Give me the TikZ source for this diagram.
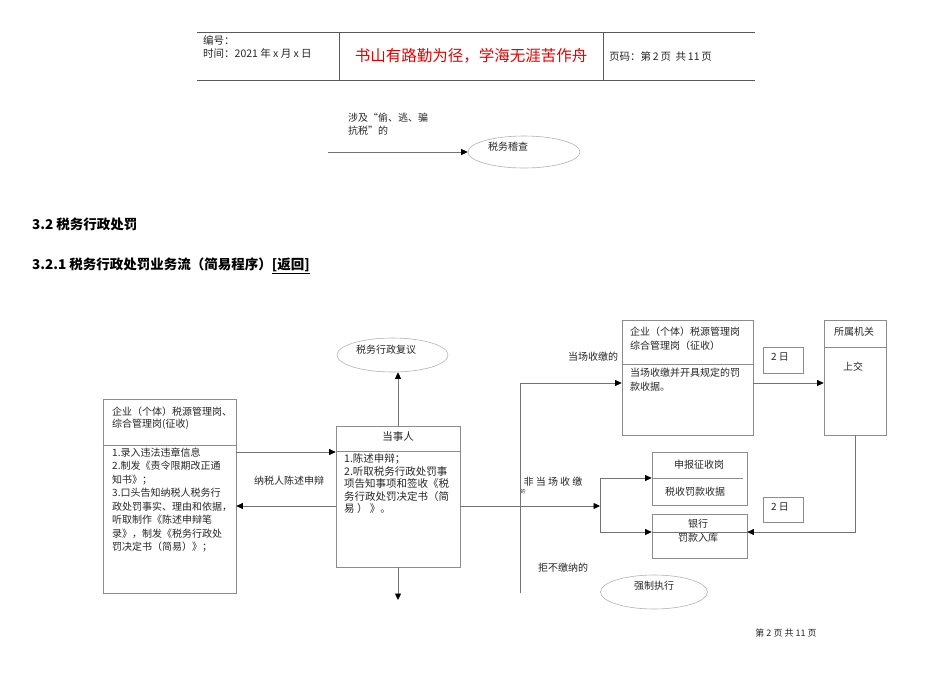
\documentclass[tikz,border=0pt]{standalone}
\usepackage{fontspec}
\setmainfont{Noto Sans CJK SC}
\usetikzlibrary{arrows.meta,shapes.geometric,calc}

\begin{document}
\begin{tikzpicture}[x=1pt,y=-1pt,
  box/.style={draw=black!45,line width=0.7pt,inner sep=0pt},
  oval/.style={ellipse,draw=black!30,line width=0.6pt,inner sep=0pt},
  ln/.style={draw=black!55,line width=0.7pt},
  arr/.style={ln,-{Triangle[length=6.5pt,width=6pt,color=black]}},
  hline/.style={draw=black!65,line width=1pt},
  txt/.style={inner sep=0pt,text=black!85,font=\fontsize{10}{13.5}\selectfont}]
  \useasboundingbox (0,0) rectangle (950,672);

  % page header
  \draw[hline] (197,32) -- (755,32);
  \draw[hline] (197,80) -- (755,80);
  \draw[hline] (339,32) -- (339,80);
  \draw[hline] (603,32) -- (603,80);
  \node[txt,anchor=west,align=left,font=\fontsize{10.5}{13.5}\selectfont] (hno) at (203,47) {编号：\\时间：2021 年 x 月 x 日};
  \node[txt,text=red!90!black,font=\fontsize{15.5}{18}\selectfont] (motto) at (471,56) {书山有路勤为径，学海无涯苦作舟};
  \node[txt,anchor=west,font=\fontsize{10.5}{13}\selectfont] (hpage) at (609,56) {页码：第\,2\,页 \ 共\,11\,页};

  % audit branch
  \node[oval,minimum width=112,minimum height=32] (audit) at (524,152) {};
  \node[txt] (auditlbl) at (508,147) {税务稽查};
  \node[txt,anchor=west,align=left,font=\fontsize{10}{13}\selectfont] (evade) at (348,124.5) {涉及“偷、逃、骗\\抗税”的};
  \coordinate (auditin) at (328,152);
  \draw[arr] (auditin) -- (audit.west);

  % headings
  \node[txt,anchor=west,text=black,font=\bfseries\fontsize{13.5}{16}\selectfont] (sec) at (32,224) {3.2 税务行政处罚};
  \node[txt,anchor=west,text=black,font=\bfseries\fontsize{13.5}{16}\selectfont] (subsec) at (32,266) {3.2.1 税务行政处罚业务流（简易程序）\underline{[返回]}};

  % left box
  \node[box,minimum width=133,minimum height=194] (lbox) at (169.5,496) {};
  \draw[box] (lbox.west |- 0,445) -- (lbox.east |- 0,445);
  \node[txt,anchor=west,align=left,font=\fontsize{10}{12.5}\selectfont] (lhead) at (112,418) {企业（个体）税源管理岗、\\综合管理岗(征收)};
  \node[txt,anchor=west,align=left] (lbody) at (112,500) {1.录入违法违章信息\\2.制发《责令限期改正通\\知书》；\\3.口头告知纳税人税务行\\政处罚事实、理由和依据，\\听取制作《陈述申辩笔\\录》，制发《税务行政处\\罚决定书（简易）》；};

  % party box
  \node[box,minimum width=124,minimum height=141] (party) at (398,496.5) {};
  \draw[box] (party.west |- 0,451) -- (party.east |- 0,451);
  \node[txt,font=\fontsize{10.5}{13}\selectfont] (partyhead) at (398,437) {当事人};
  \node[txt,anchor=west,align=left,font=\fontsize{10.5}{12.5}\selectfont] (partybody) at (344,484) {1.陈述申辩；\\2.听取税务行政处罚事\\项告知事项和签收《税\\务行政处罚决定书（简\\易 ） 》。};
  \node[oval,minimum width=111,minimum height=34] (review) at (392.5,355) {};
  \node[txt] (reviewlbl) at (386,350) {税务行政复议};
  \coordinate (partyout) at (398,600);

  \draw[arr] (lbox.east |- 0,452) -- (party.west |- 0,452);
  \draw[arr] (party.west |- 0,506) -- (lbox.east |- 0,506);
  \node[txt] (plead) at (289,481) {纳税人陈述申辩};
  \draw[arr] (party.north) -- (party.north |- review.south);
  \draw[arr] (party.south) -- (partyout);

  % on-site collection
  \node[box,minimum width=131,minimum height=115] (onsite) at (687.5,377.5) {};
  \draw[box] (onsite.west |- 0,364) -- (onsite.east |- 0,364);
  \node[txt,anchor=west,align=left,font=\fontsize{10}{14}\selectfont] (onsitehead) at (630,339) {企业（个体）税源管理岗\\综合管理岗（征收）};
  \node[txt,anchor=west,align=left] (onsitebody) at (630,379.5) {当场收缴并开具规定的罚\\款收据。};
  \node[box,minimum width=62,minimum height=115] (office) at (855,377.5) {};
  \draw[box] (office.west |- 0,347) -- (office.east |- 0,347);
  \node[txt] (officehead) at (854,332) {所属机关};
  \node[txt] (officebody) at (853,367) {上交};
  \node[box,minimum width=40,minimum height=26] (day1) at (783,360) {};
  \node[txt] (day1lbl) at (780,357) {2 日};

  % off-site collection
  \node[box,minimum width=95,minimum height=53] (declare) at (699.5,478.5) {};
  \draw[box] (declare.west |- 0,478) -- ($(declare.east |- 0,478)+(-4,0)$);
  \node[txt] (declarehead) at (699,465) {申报征收岗};
  \node[txt] (declarebody) at (695,492) {税收罚款收据};
  \node[box,minimum width=95,minimum height=44] (bank) at (699.5,536) {};
  \node[txt] (bankhead) at (698,524) {银行};
  \node[txt] (bankbody) at (698,538) {罚款入库};
  \node[box,minimum width=40,minimum height=25] (day2) at (783,509.5) {};
  \node[txt] (day2lbl) at (780,507) {2 日};

  \coordinate (fork) at (600,506);
  \coordinate (vbot) at (520,593);
  \draw[arr] (party.east |- 0,506) -- (fork);
  \draw[ln] (fork |- 0,478) -- (fork |- 0,532);
  \draw[arr] (fork |- 0,478) -- (declare.west |- 0,478);
  \draw[arr] (fork |- 0,532) -- (bank.west |- 0,532);
  \draw[ln] (bank.west |- 0,532) -- (bank.east |- 0,532);
  \draw[arr] (vbot) -- (vbot |- 0,383) -- (onsite.west |- 0,383);
  \draw[arr] (onsite.east |- 0,383) -- (office.west |- 0,383);
  \draw[arr] (office.south) -- (office.south |- 0,532) -- (bank.east |- 0,532);

  \node[txt] (onsitelbl) at (593,357) {当场收缴的};
  \node[txt] (offsitelbl) at (553,482) {非 当 场 收 缴};
  \node[txt,font=\fontsize{5}{6}\selectfont] (offsitetail) at (523,492) {的};
  \node[txt] (refuse) at (563,568) {拒不缴纳的};
  \node[oval,minimum width=107,minimum height=34] (enforce) at (654,592) {};
  \node[txt] (enforcelbl) at (654,586) {强制执行};

  % page footer
  \node[txt,font=\fontsize{9}{11}\selectfont] (footer) at (786,633) {第 2 页 共 11 页};
\end{tikzpicture}
\end{document}
